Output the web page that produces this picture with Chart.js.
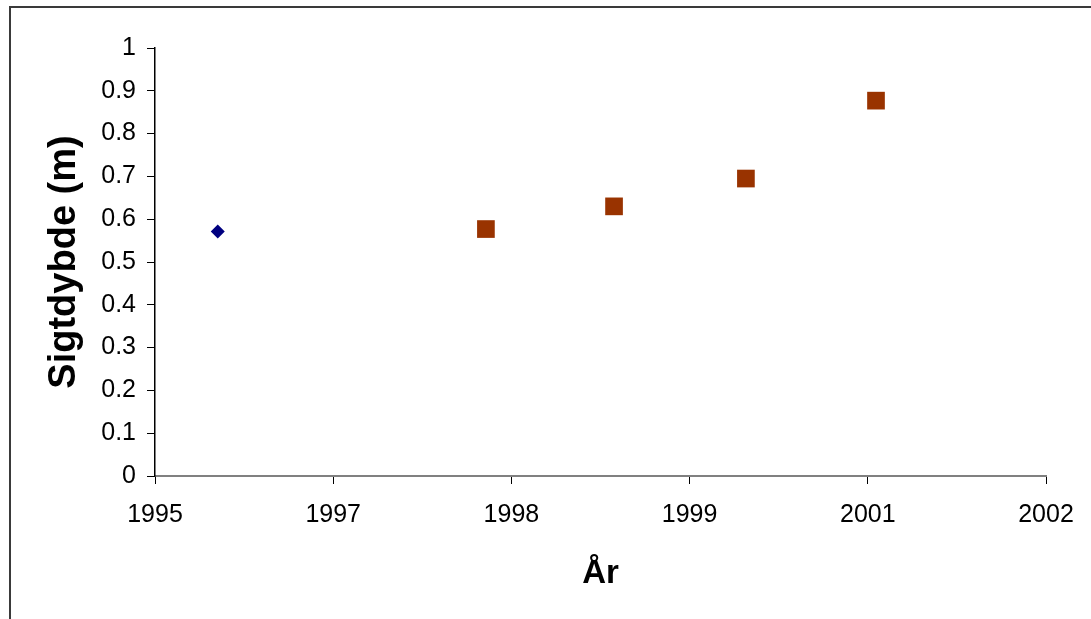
<!DOCTYPE html>
<html>
<head>
<meta charset="utf-8">
<script src="https://cdn.jsdelivr.net/npm/chart.js@4"></script>
<style>
  html, body { margin: 0; padding: 0; background: #fff; overflow: hidden; }
  #wrap { position: relative; width: 1091px; height: 619px; }
  #frame { position: absolute; left: 9px; top: 6px; width: 2000px; height: 2000px;
           border-left: 2px solid #3a3a3a; border-top: 2px solid #3a3a3a; box-sizing: border-box; }
  canvas { position: absolute; left: 0; top: 0; }
</style>
</head>
<body>
<div id="wrap">
  <div id="frame"></div>
  <canvas id="c" width="1091" height="619"></canvas>
</div>
<script>
// x positions are in tick-slot units (0 = first tick label, 5 = last)
const xTickLabels = ['1995', '1997', '1998', '1999', '2001', '2002'];

const earlyX = [0.352];
const earlyY = [0.571];

const laterX = [1.857, 2.576, 3.316, 4.046];
const laterY = [0.577, 0.630, 0.695, 0.877];

const toPoints = (xs, ys) => xs.map((x, i) => ({ x, y: ys[i] }));

const fam = '"Liberation Sans", Arial, sans-serif';
const tickFont = { family: fam, size: 25 };

new Chart(document.getElementById('c'), {
  type: 'scatter',
  data: {
    datasets: [
      {
        label: 'early',
        data: toPoints(earlyX, earlyY),
        pointStyle: 'rectRot',
        pointRadius: 7,
        backgroundColor: '#000080',
        borderColor: '#000080',
        borderWidth: 0,
      },
      {
        label: 'later',
        data: toPoints(laterX, laterY),
        pointStyle: 'rect',
        pointRadius: 12.5,
        backgroundColor: '#993300',
        borderColor: '#993300',
        borderWidth: 0,
      },
    ],
  },
  options: {
    responsive: false,
    animation: false,
    layout: { padding: { top: 48, right: 45, bottom: 0, left: 0 } },
    plugins: { legend: { display: false }, tooltip: { enabled: false } },
    scales: {
      x: {
        type: 'linear',
        min: 0,
        max: 5,
        afterFit: (s) => { s.height = 143; },
        ticks: {
          stepSize: 1,
          color: '#000',
          font: tickFont,
          padding: 16,
          maxRotation: 0,
          callback: (v) => xTickLabels[v] ?? '',
        },
        grid: { drawOnChartArea: false, tickLength: 8, color: '#000', tickColor: '#000' },
        border: { color: '#808080', width: 2 },
        title: { display: true, text: 'År', color: '#000', font: { family: fam, size: 33, weight: 'bold' }, padding: { top: 0, bottom: 25 } },
      },
      y: {
        min: 0,
        max: 1,
        afterFit: (s) => { s.width = 155; },
        ticks: {
          stepSize: 0.1,
          color: '#000',
          font: tickFont,
          padding: 11,
          callback: (v) => String(Number(v.toFixed(1))),
        },
        grid: { drawOnChartArea: false, tickLength: 8, color: '#000', tickColor: '#000' },
        border: { color: '#000', width: 1.5 },
        title: { display: true, text: 'Sigtdybde (m)', color: '#000', font: { family: fam, size: 38, weight: 'bold' }, padding: { top: 42, bottom: 0 } },
      },
    },
  },
});
</script>
</body>
</html>
